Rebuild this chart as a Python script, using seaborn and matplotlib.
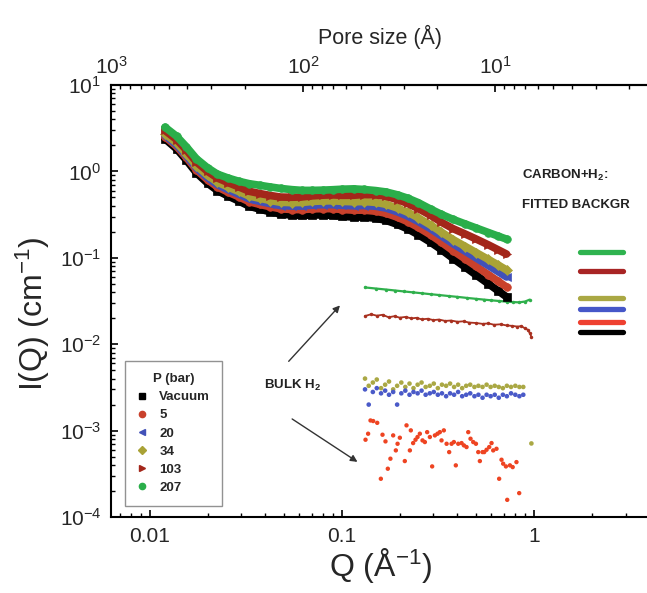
import numpy as np
import matplotlib
matplotlib.use("Agg")
import matplotlib.pyplot as plt
from matplotlib.lines import Line2D
from matplotlib.ticker import LogLocator, NullFormatter, FixedLocator
import seaborn as sns

# ---------------- data ----------------
Q_MAIN = [0.012, 0.0138, 0.0155, 0.0175, 0.02, 0.0225, 0.0255, 0.029, 0.033, 0.0375,
          0.0425, 0.048, 0.055, 0.062, 0.07, 0.08, 0.09, 0.10, 0.115, 0.13, 0.15,
          0.17, 0.195, 0.22, 0.25, 0.29, 0.33, 0.38, 0.44, 0.50, 0.58, 0.65, 0.72]

I_VACUUM = [2.38, 1.82, 1.35, 0.96, 0.73, 0.60, 0.52, 0.455, 0.395, 0.365, 0.34, 0.32,
            0.312, 0.309, 0.313, 0.313, 0.31, 0.302, 0.296, 0.296, 0.287, 0.271, 0.243,
            0.216, 0.185, 0.151, 0.124, 0.098, 0.0776, 0.0632, 0.0499, 0.0416, 0.0353]
I_5 = [2.523, 1.946, 1.454, 1.042, 0.799, 0.661, 0.577, 0.509, 0.445, 0.414, 0.389, 0.369,
       0.362, 0.361, 0.368, 0.371, 0.37, 0.362, 0.356, 0.356, 0.346, 0.327, 0.294, 0.262,
       0.225, 0.184, 0.151, 0.1204, 0.0966, 0.0796, 0.0637, 0.0536, 0.0459]
I_20 = [2.618, 2.031, 1.524, 1.097, 0.845, 0.703, 0.616, 0.546, 0.48, 0.449, 0.423, 0.402,
        0.397, 0.397, 0.407, 0.412, 0.412, 0.405, 0.40, 0.403, 0.395, 0.376, 0.34, 0.304,
        0.263, 0.2165, 0.179, 0.145, 0.1187, 0.0995, 0.0811, 0.0693, 0.060]
I_34 = [2.737, 2.133, 1.608, 1.163, 0.899, 0.751, 0.661, 0.587, 0.518, 0.487, 0.46, 0.439,
        0.435, 0.437, 0.449, 0.455, 0.457, 0.45, 0.445, 0.448, 0.438, 0.416, 0.376, 0.337,
        0.2905, 0.239, 0.198, 0.162, 0.135, 0.115, 0.0956, 0.0827, 0.0724]
I_103 = [2.975, 2.335, 1.769, 1.285, 1.0, 0.839, 0.743, 0.663, 0.588, 0.554, 0.526, 0.505,
         0.502, 0.506, 0.521, 0.531, 0.535, 0.5285, 0.5295, 0.54, 0.535, 0.514, 0.471,
         0.4255, 0.371, 0.309, 0.258, 0.217, 0.188, 0.165, 0.141, 0.124, 0.1105]
I_207 = [3.25, 2.55, 1.93, 1.40, 1.10, 0.93, 0.84, 0.77, 0.72, 0.69, 0.66, 0.635, 0.615,
         0.603, 0.603, 0.607, 0.614, 0.622, 0.628, 0.618, 0.60, 0.578, 0.535, 0.49, 0.435,
         0.366, 0.318, 0.278, 0.246, 0.2214, 0.196, 0.1786, 0.1644]

LABELS = ["Vacuum", "5", "20", "34", "103", "207"]
COLORS = ["#000000", "#c9412c", "#4151b8", "#a9a236", "#a3261a", "#2aae4a"]
MARKERS = ["s", "o", "<", "D", ">", "o"]

# bulk H2 data
Q_BULK_207 = [0.132, 0.15, 0.17, 0.19, 0.21, 0.235, 0.26, 0.29, 0.32, 0.36, 0.40, 0.45,
              0.50, 0.55, 0.60, 0.66, 0.72, 0.78, 0.84, 0.90, 0.95]
I_BULK_207 = [0.0454, 0.0441, 0.0429, 0.0418, 0.0408, 0.0398, 0.0389, 0.0379, 0.0371,
              0.0361, 0.0353, 0.0343, 0.0335, 0.0328, 0.0322, 0.0316, 0.0311, 0.0307,
              0.0305, 0.0312, 0.0328]
Q_BULK_103 = [0.132, 0.142, 0.152, 0.163, 0.175, 0.188, 0.2, 0.215, 0.23, 0.245, 0.26, 0.28,
              0.3, 0.32, 0.345, 0.37, 0.4, 0.43, 0.46, 0.5, 0.54, 0.58, 0.62, 0.67, 0.72,
              0.77, 0.82, 0.86, 0.9, 0.93, 0.95, 0.97]
I_BULK_103 = [0.0212, 0.0222, 0.0214, 0.0219, 0.0205, 0.0211, 0.0203, 0.0207, 0.0199, 0.0202,
              0.0194, 0.0197, 0.0190, 0.0193, 0.0186, 0.0188, 0.0182, 0.0184, 0.0178, 0.0176,
              0.0172, 0.0174, 0.0168, 0.0170, 0.0165, 0.0163, 0.0160, 0.0162, 0.0152, 0.0147,
              0.0135, 0.0122]
Q_BULK_LOW = [0.132, 0.138, 0.145, 0.152, 0.16, 0.168, 0.176, 0.185, 0.194, 0.204, 0.214,
              0.225, 0.236, 0.248, 0.26, 0.273, 0.287, 0.301, 0.316, 0.332, 0.349, 0.366,
              0.384, 0.403, 0.423, 0.444, 0.466, 0.49, 0.514, 0.54, 0.567, 0.595, 0.625,
              0.656, 0.689, 0.723, 0.76, 0.8, 0.84, 0.88]
I_BULK_34 = [0.0040, 0.0033, 0.0036, 0.0039, 0.0031, 0.0034, 0.0037, 0.0030, 0.0033, 0.0036,
             0.0032, 0.0035, 0.0031, 0.0034, 0.0036, 0.0032, 0.0033, 0.0035, 0.0031, 0.0034,
             0.0033, 0.0035, 0.0032, 0.0034, 0.0031, 0.0033, 0.0034, 0.0032, 0.0033, 0.0032,
             0.0034, 0.0032, 0.0033, 0.0032, 0.0031, 0.0033, 0.0032, 0.0033, 0.0032, 0.0032]
Q_BULK_34_END = [0.97]
I_BULK_34_END = [0.00071]
I_BULK_20 = [0.0030, 0.0020, 0.0028, 0.0031, 0.0027, 0.0029, 0.0026, 0.0028, 0.0020, 0.0027,
             0.0029, 0.0026, 0.0028, 0.0027, 0.0029, 0.0026, 0.0027, 0.0028, 0.0026, 0.0027,
             0.0025, 0.0027, 0.0026, 0.0028, 0.0025, 0.0026, 0.0027, 0.0025, 0.0026, 0.0024,
             0.0026, 0.0025, 0.0026, 0.0024, 0.0026, 0.0025, 0.0027, 0.0026, 0.0025, 0.0026]
Q_BULK_5 = [0.1328, 0.137, 0.141, 0.1456, 0.1528, 0.1596, 0.1628, 0.1687, 0.1735, 0.179,
            0.185, 0.191, 0.195, 0.2004, 0.2127, 0.2171, 0.226, 0.2286, 0.235, 0.2418,
            0.2477, 0.2547, 0.263, 0.2705, 0.278, 0.2872, 0.2952, 0.305, 0.3148, 0.3237,
            0.3303, 0.3396, 0.351, 0.362, 0.3725, 0.383, 0.392, 0.4035, 0.42, 0.432,
            0.4458, 0.455, 0.4676, 0.483, 0.499, 0.513, 0.523, 0.54, 0.551, 0.5667,
            0.585, 0.6016, 0.6138, 0.6385, 0.659, 0.678, 0.6915, 0.7146, 0.726, 0.75,
            0.775, 0.811, 0.838]
I_BULK_5 = [0.000784, 0.00092, 0.00131, 0.00129, 0.00123, 0.000277, 0.000896, 0.00075,
            0.000362, 0.000473, 0.00088, 0.00059, 0.000704, 0.000827, 0.000444, 0.00115,
            0.00059, 0.001006, 0.000717, 0.000784, 0.000843, 0.00092, 0.00077, 0.000737,
            0.00096, 0.000843, 0.000385, 0.00088, 0.00092, 0.00096, 0.00077, 0.001006,
            0.000704, 0.000564, 0.000704, 0.000737, 0.000396, 0.000704, 0.000717, 0.000674,
            0.000645, 0.00096, 0.000805, 0.000737, 0.000704, 0.000564, 0.000444, 0.000564,
            0.000564, 0.0006, 0.000645, 0.000717, 0.00059, 0.000616, 0.000277, 0.00046,
            0.000414, 0.000385, 0.000158, 0.000396, 0.000378, 0.000432, 0.000189]

# fitted backgrounds (carbon + H2)
FIT_Q = [1.74, 2.90]
FIT_LEVELS = [0.0137, 0.0179, 0.0253, 0.0339, 0.0696, 0.1155]  # vacuum,5,20,34,103,207
FIT_COLORS = ["#000000", "#ee4030", "#4657c8", "#aaa844", "#a82424", "#2fb34f"]

X_TICKS = [0.01, 0.1, 1]
X_TICK_LABELS = ["0.01", "0.1", "1"]
PORE_TICKS = [10, 100, 1000]

# ---------------- style ----------------
sns.set_theme(style="ticks")
plt.rcParams["font.family"] = ["Liberation Sans", "DejaVu Sans"]
plt.rcParams["mathtext.fontset"] = "custom"
plt.rcParams["mathtext.rm"] = "Liberation Sans"
plt.rcParams["mathtext.it"] = "Liberation Sans:italic"
plt.rcParams["mathtext.bf"] = "Liberation Sans:bold"

fig = plt.figure(figsize=(6.47, 5.93), dpi=100)
ax = fig.add_axes([111 / 647, 1 - 517 / 593, (650 - 111) / 647, (517 - 85) / 593])

# bulk H2 curves
sns.lineplot(x=Q_BULK_207, y=I_BULK_207, color="#2fb04c", lw=1.6, marker="o", ms=2.5,
             mec="none", ax=ax, sort=False, zorder=2)
sns.lineplot(x=Q_BULK_103, y=I_BULK_103, color="#a8301f", lw=1.3, marker="o", ms=2.5,
             mec="none", ax=ax, sort=False, zorder=2)
sns.scatterplot(x=Q_BULK_LOW, y=I_BULK_34, color="#aaa844", s=11, edgecolor="none", ax=ax, zorder=2)
sns.scatterplot(x=Q_BULK_34_END, y=I_BULK_34_END, color="#aaa844", s=11, edgecolor="none", ax=ax, zorder=2)
sns.scatterplot(x=Q_BULK_LOW, y=I_BULK_20, color="#4a5ac8", s=11, edgecolor="none", ax=ax, zorder=2)
sns.scatterplot(x=Q_BULK_5, y=I_BULK_5, color="#ee4422", s=10, edgecolor="none", ax=ax, zorder=2)

# fitted background bars
for lvl, c in zip(FIT_LEVELS, FIT_COLORS):
    sns.lineplot(x=FIT_Q, y=[lvl, lvl], color=c, lw=3.8, ax=ax, solid_capstyle="round", zorder=2)

# main carbon + H2 curves
series = [I_VACUUM, I_5, I_20, I_34, I_103, I_207]
for vals, c, m in zip(series, COLORS, MARKERS):
    sns.lineplot(x=Q_MAIN, y=vals, color=c, lw=5.5, marker=m, ms=5.5, mec=c, mew=0.5,
                 ax=ax, zorder=3)

ax.set_xscale("log")
ax.set_yscale("log")
ax.set_xlim(2 * np.pi / 1000, 4.02)
ax.set_ylim(1e-4, 10)

# ticks
ax.tick_params(which="both", direction="in", top=False, right=False, color="black")
ax.tick_params(which="major", length=5, width=1.2, labelsize=15, pad=7)
ax.tick_params(which="minor", length=3, width=1.0)
ax.set_xticks(X_TICKS, X_TICK_LABELS)
ax.xaxis.set_minor_locator(LogLocator(base=10, subs=np.arange(2, 10), numticks=20))
ax.yaxis.set_minor_locator(LogLocator(base=10, subs=np.arange(2, 10), numticks=20))
ax.xaxis.set_minor_formatter(NullFormatter())
ax.yaxis.set_minor_formatter(NullFormatter())

for side in ["left", "bottom", "top"]:
    ax.spines[side].set_linewidth(1.5)
    ax.spines[side].set_color("black")
ax.spines["right"].set_visible(False)

ax.set_xlabel("Q (Å$^{-1}$)", fontsize=23)
ax.xaxis.set_label_coords(0.5, -0.068)
ax.set_ylabel("I(Q) (cm$^{-1}$)", fontsize=23)
ax.yaxis.set_label_coords(-0.11, 0.47)

# top axis: pore size
sec = ax.secondary_xaxis("top", functions=(lambda q: 2 * np.pi / q, lambda d: 2 * np.pi / d))
sec.xaxis.set_major_locator(FixedLocator(PORE_TICKS))
sec.tick_params(which="both", direction="in", color="black")
sec.tick_params(which="major", length=5, width=1.2, labelsize=15, pad=5)
sec.tick_params(which="minor", length=3, width=1.0)
sec.xaxis.set_minor_formatter(NullFormatter())
sec.set_xlabel("Pore size (Å)", fontsize=15.5, labelpad=9)
sec.spines["top"].set_linewidth(1.5)

# annotations
ax.text(0.0395, 0.00334, "BULK H$_\\mathbf{2}$", fontsize=9.5, fontweight="bold",
        va="center", ha="left", color="#222222")
ax.annotate("", xy=(0.1, 0.0297), xytext=(0.0517, 0.006),
            arrowprops=dict(arrowstyle="-|>", color="#333333", lw=1.0, mutation_scale=10))
ax.annotate("", xy=(0.124, 0.000417), xytext=(0.0536, 0.00142),
            arrowprops=dict(arrowstyle="-|>", color="#333333", lw=1.0, mutation_scale=10))
ax.text(0.866, 0.9, "CARBON+H$_\\mathbf{2}$:", fontsize=9.5, fontweight="bold",
        va="center", ha="left", color="#222222")
ax.text(0.866, 0.404, "FITTED BACKGR", fontsize=9.5, fontweight="bold",
        va="center", ha="left", color="#222222")

# legend
handles = [Line2D([], [], ls="none", marker=m, color=c, ms=4.5, mec=c) for c, m in zip(COLORS, MARKERS)]
leg = ax.legend(handles, LABELS, title="P (bar)", loc="lower left",
                bbox_to_anchor=(0.026, 0.0255), frameon=True, fancybox=False,
                edgecolor="#777777", handlelength=0.8, handletextpad=0.9,
                labelspacing=0.45, borderpad=0.9, borderaxespad=0,
                prop={"weight": "bold", "size": 9.5},
                title_fontproperties={"weight": "bold", "size": 9.5})
leg.get_frame().set_linewidth(1.0)

fig.savefig("out.png", dpi=100)
